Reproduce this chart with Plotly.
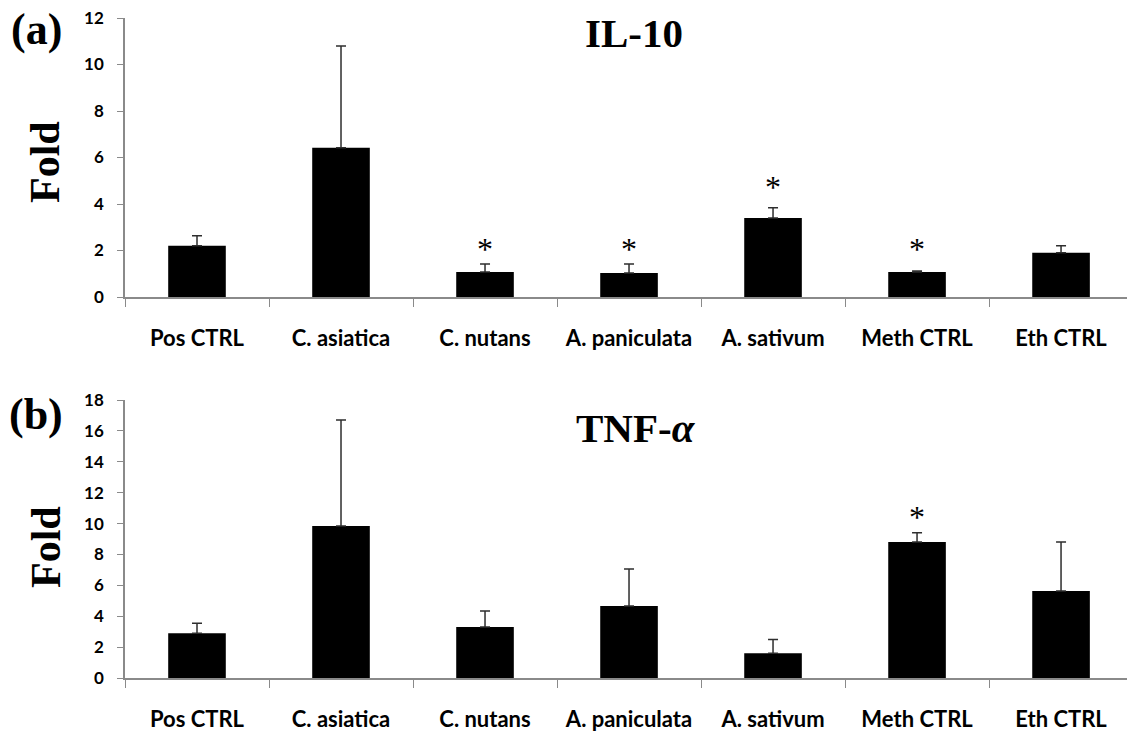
import plotly.graph_objects as go

categories = ["Pos CTRL", "C. asiatica", "C. nutans", "A. paniculata", "A. sativum", "Meth CTRL", "Eth CTRL"]

il10_values = [2.2, 6.42, 1.08, 1.03, 3.4, 1.08, 1.9]
il10_errors = [0.43, 4.38, 0.34, 0.39, 0.44, 0.04, 0.3]
il10_sig_cats = ["C. nutans", "A. paniculata", "A. sativum", "Meth CTRL"]
il10_sig_y = [1.93, 1.93, 4.6, 1.93]

tnf_values = [2.9, 9.84, 3.3, 4.66, 1.6, 8.8, 5.63]
tnf_errors = [0.65, 6.86, 1.04, 2.4, 0.9, 0.6, 3.17]
tnf_sig_cats = ["Meth CTRL"]
tnf_sig_y = [10.25]

W, H = 1127, 733
serif = "Liberation Serif"
sans = "Lato"

fig = go.Figure()

def add_panel(values, errors, sig_cats, sig_y, xa, ya):
    fig.add_trace(go.Bar(
        x=categories, y=values, xaxis=xa, yaxis=ya,
        marker=dict(color="black", line=dict(width=0)),
        error_y=dict(type="data", array=errors, arrayminus=[0] * len(errors), symmetric=False,
                     color="#2e2e2e", thickness=1.5, width=5),
        showlegend=False,
    ))
    fig.add_trace(go.Scatter(
        x=sig_cats, y=sig_y, xaxis=xa, yaxis=ya, mode="text",
        text=["*"] * len(sig_cats), textposition="middle center",
        textfont=dict(family=serif, size=32, color="black"),
        showlegend=False, hoverinfo="skip",
    ))

add_panel(il10_values, il10_errors, il10_sig_cats, il10_sig_y, "x", "y")
add_panel(tnf_values, tnf_errors, tnf_sig_cats, tnf_sig_y, "x2", "y2")

left = 125 / W
xcommon = dict(
    type="category", range=[-0.5, 6.458], showline=True, linecolor="#8a8a8a", linewidth=1.5,
    ticks="outside", tickson="boundaries", ticklen=8, tickcolor="#8a8a8a", tickwidth=1.2,
    tickfont=dict(family=sans, size=22, color="black", weight="bold"),
    ticklabelstandoff=21,
    showgrid=False, zeroline=False, fixedrange=True, automargin=False,
)
ycommon = dict(
    showline=True, linecolor="#8a8a8a", linewidth=1.5, ticks="outside", ticklen=6, tickwidth=1.2,
    tickcolor="#8a8a8a", tickfont=dict(family=sans, size=17, color="black", weight="bold"),
    ticklabelstandoff=10,
    showgrid=False, zeroline=False, fixedrange=True, automargin=False,
)

def txt(text, x, y, size, xanchor="center", angle=0):
    return dict(text=text, x=x / W, y=1 - y / H, xref="paper", yref="paper",
                xanchor=xanchor, yanchor="middle", textangle=angle, showarrow=False,
                font=dict(family=serif, size=size, color="black", weight="bold"))

fig.update_layout(
    width=W, height=H,
    margin=dict(l=0, r=0, t=0, b=0, autoexpand=False),
    paper_bgcolor="white", plot_bgcolor="white",
    bargap=0.6,
    xaxis=dict(xcommon, domain=[left, 1], anchor="y"),
    yaxis=dict(ycommon, domain=[1 - 297 / H, 1 - 18 / H], range=[0, 12], dtick=2, anchor="x"),
    xaxis2=dict(xcommon, domain=[left, 1], anchor="y2"),
    yaxis2=dict(ycommon, domain=[1 - 678 / H, 1 - 400 / H], range=[0, 18], dtick=2, anchor="x2"),
    annotations=[
        txt("(a)", 36, 30, 44),
        txt("(b)", 36, 414, 44),
        txt("Fold", 45, 162, 42, angle=-90),
        txt("Fold", 46, 547, 42, angle=-90),
        txt("IL-10", 634, 33, 41),
        txt("TNF-<i>α</i>", 636, 428, 41),
    ],
)

fig.write_html("out.html", config={"displayModeBar": False},
               post_script="document.body.style.margin='0';document.body.style.overflow='hidden';")
